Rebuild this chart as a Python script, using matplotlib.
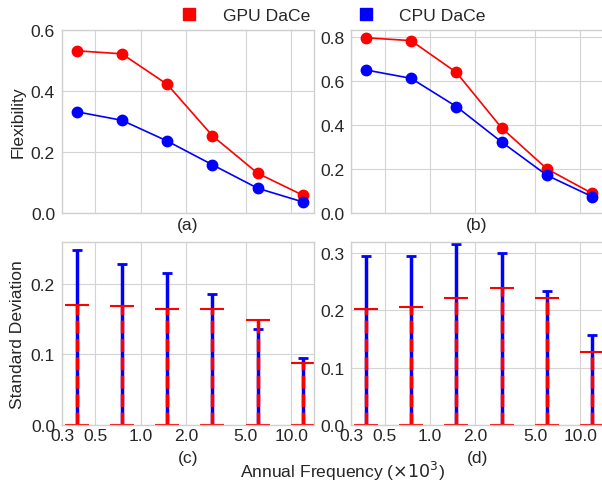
"""
Flexibility and standard deviation vs annual frequency, GPU vs CPU DaCe.
"""
import matplotlib
matplotlib.use("Agg")
import matplotlib.pyplot as plt
from matplotlib.lines import Line2D

# annual frequency (x10^3)
freq = [0.375, 0.75, 1.5, 3.0, 6.0, 12.0]
xticks = [0.3, 0.5, 1.0, 2.0, 5.0, 10.0]
xticklabels = ['0.3', '0.5', '1.0', '2.0', '5.0', '10.0']

# (a) / (b) flexibility
flex_a_gpu = [0.532, 0.522, 0.422, 0.253, 0.130, 0.058]
flex_a_cpu = [0.332, 0.304, 0.236, 0.158, 0.081, 0.036]
flex_b_gpu = [0.795, 0.782, 0.638, 0.386, 0.200, 0.089]
flex_b_cpu = [0.649, 0.611, 0.483, 0.322, 0.171, 0.074]

# (c) / (d) standard deviation
std_c_gpu = [0.169, 0.168, 0.164, 0.164, 0.148, 0.087]
std_c_cpu = [0.248, 0.228, 0.215, 0.185, 0.136, 0.095]
std_d_gpu = [0.203, 0.206, 0.222, 0.239, 0.221, 0.128]
std_d_cpu = [0.296, 0.296, 0.316, 0.300, 0.234, 0.157]

FS = 12.6

plt.style.use('seaborn-v0_8-whitegrid')
plt.rcParams['font.family'] = ['Liberation Sans', 'DejaVu Sans']
plt.rcParams['font.size'] = FS
plt.rcParams['axes.edgecolor'] = '#d0d0d0'
plt.rcParams['grid.color'] = '#d4d4d4'

fig, axes = plt.subplots(2, 2, figsize=(6.02, 4.85), dpi=100, sharex=True)
fig.subplots_adjust(left=0.103, right=1.002, top=0.936, bottom=0.122,
                    wspace=0.147, hspace=0.158)
(ax_a, ax_b), (ax_c, ax_d) = axes


def flex_panel(ax, gpu, cpu, label, ymax):
    ax.plot(freq, gpu, 'r-o', lw=1.2, ms=7.5)
    ax.plot(freq, cpu, 'b-o', lw=1.2, ms=7.5)
    ax.set_ylim(0, ymax)
    ax.set_xlabel(label)


def std_panel(ax, gpu, cpu, label, ymax):
    zeros = [0] * len(freq)
    ax.errorbar(freq, zeros, yerr=[zeros, cpu], fmt='none', ecolor='b',
                elinewidth=2.5, capsize=3.8, capthick=2)
    eb = ax.errorbar(freq, zeros, yerr=[zeros, gpu], fmt='none', ecolor='r',
                     elinewidth=2.5, capsize=8.3, capthick=1.5)
    eb.lines[2][0].set_linestyle('--')
    ax.set_ylim(0, ymax)
    ax.set_xlabel(label)


flex_panel(ax_a, flex_a_gpu, flex_a_cpu, '(a)', 0.6)
flex_panel(ax_b, flex_b_gpu, flex_b_cpu, '(b)', 0.83)
std_panel(ax_c, std_c_gpu, std_c_cpu, '(c)', 0.259)
std_panel(ax_d, std_d_gpu, std_d_cpu, '(d)', 0.32)

ax_a.set_yticks([0.0, 0.2, 0.4, 0.6])
ax_b.set_yticks([0.0, 0.2, 0.4, 0.6, 0.8])
ax_c.set_yticks([0.0, 0.1, 0.2])
ax_d.set_yticks([0.0, 0.1, 0.2, 0.3])

ax_c.set_xscale('log')
ax_c.set_xlim(0.3, 14.2)
for ax in axes.flat:
    ax.set_xticks(xticks)
    ax.set_xticklabels(xticklabels)
    ax.minorticks_off()
    ax.tick_params(axis='x', labelsize=FS, pad=2)
    ax.tick_params(axis='y', labelsize=FS, pad=5)
for ax in (ax_a, ax_b):
    ax.tick_params(labelbottom=False)
    ax.xaxis.labelpad = 3
for ax in (ax_c, ax_d):
    ax.xaxis.labelpad = 5

ax_a.set_ylabel('Flexibility')
ax_c.set_ylabel('Standard Deviation')
fig.text(0.569, 0.027, r'Annual Frequency ($\times10^3$)', ha='center', va='center',
         fontsize=FS)

handles = [Line2D([], [], ls='none', marker='s', color='r', ms=9),
           Line2D([], [], ls='none', marker='s', color='b', ms=9)]
fig.legend(handles, ['GPU DaCe', 'CPU DaCe'], loc='center', ncol=2,
           bbox_to_anchor=(0.546, 0.966), frameon=False, fontsize=FS,
           handletextpad=0.9, columnspacing=2.2)

fig.savefig('out.png', dpi=100)
